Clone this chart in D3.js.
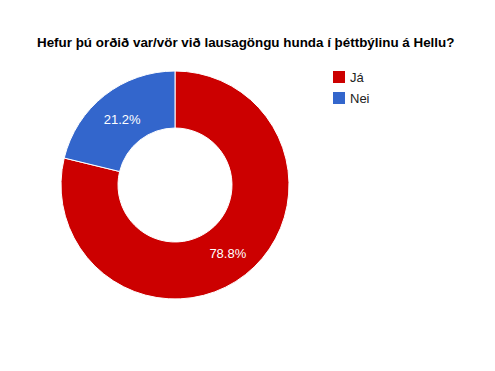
<!DOCTYPE html>
<html lang="en">
<head>
<meta charset="utf-8">
<title>Hefur þú orðið var/vör við lausagöngu hunda</title>
<script src="https://cdn.jsdelivr.net/npm/d3@7"></script>
<style>
  body { margin: 0; background: #fff; }
  text { font-family: Arial, "Liberation Sans", sans-serif; }
</style>
</head>
<body>
<script>
// chart data
var categories = ["Já", "Nei"];
var values = [78.8, 21.2];
var colours = ["#cc0000", "#3366cc"];
var title = "Hefur þú orðið var/vör við lausagöngu hunda í þéttbýlinu á Hellu?";

var w = 495, h = 371;
var cx = 175, cy = 185;
var outerR = 114, innerR = 57;

var svg = d3.select("body")
  .append("svg")
  .attr("width", w)
  .attr("height", h);

// title
svg.append("text")
  .attr("x", 37)
  .attr("y", 47)
  .attr("font-size", 13.4)
  .attr("font-weight", "bold")
  .attr("fill", "#000")
  .text(title);

var colour = d3.scaleOrdinal().domain(categories).range(colours);

var pie = d3.pie().sort(null).value(function(d) { return d.v; });
var arcs = pie(categories.map(function(c, i) { return {c: c, v: values[i]}; }));

var arc = d3.arc().innerRadius(innerR).outerRadius(outerR);
var labelArc = d3.arc().innerRadius((innerR + outerR) / 2).outerRadius((innerR + outerR) / 2);

var g = svg.append("g").attr("transform", "translate(" + cx + "," + cy + ")");

g.selectAll("path")
  .data(arcs)
  .enter()
  .append("path")
  .attr("d", arc)
  .attr("fill", function(d) { return colour(d.data.c); })
  .attr("stroke", "#fff")
  .attr("stroke-width", 1);

// percentage labels
g.selectAll("text.pct")
  .data(arcs)
  .enter()
  .append("text")
  .attr("class", "pct")
  .attr("transform", function(d) { return "translate(" + labelArc.centroid(d) + ")"; })
  .attr("text-anchor", "middle")
  .attr("dy", "0.45em")
  .attr("font-size", 13)
  .attr("fill", "#fff")
  .text(function(d) { return d.data.v.toFixed(1) + "%"; });

// legend
var legend = svg.selectAll("g.leg")
  .data(categories)
  .enter()
  .append("g")
  .attr("class", "leg")
  .attr("transform", function(d, i) { return "translate(333," + (71 + i * 21) + ")"; });

legend.append("rect")
  .attr("width", 12)
  .attr("height", 12)
  .attr("fill", function(d) { return colour(d); });

legend.append("text")
  .attr("x", 17)
  .attr("y", 11)
  .attr("font-size", 13)
  .attr("fill", "#222")
  .text(function(d) { return d; });
</script>
</body>
</html>
